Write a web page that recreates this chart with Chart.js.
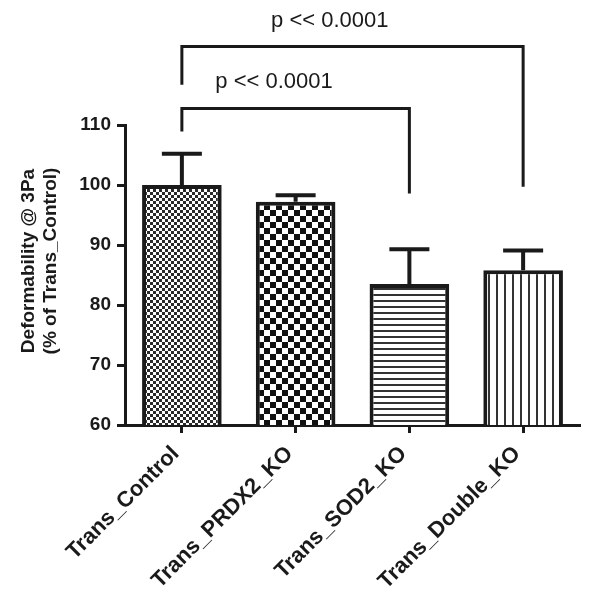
<!DOCTYPE html>
<html>
<head>
<meta charset="utf-8">
<script src="https://cdn.jsdelivr.net/npm/chart.js@4.4.1/dist/chart.umd.min.js"></script>
<style>
  html, body { margin: 0; padding: 0; background: #fff; }
  #wrap { width: 600px; height: 598px; position: relative; }
</style>
</head>
<body>
<div id="wrap"><canvas id="chart"></canvas></div>
<script>
// data
const categories = ['Trans_Control', 'Trans_PRDX2_KO', 'Trans_SOD2_KO', 'Trans_Double_KO'];
const meanValues = [100, 97.2, 83.5, 85.8];
const errorValues = [5.2, 1.1, 5.8, 3.3];
const yTicks = [60, 70, 80, 90, 100, 110];
const yTitle = ['Deformability @ 3Pa', '(% of Trans_Control)'];
const comparisons = [
  { from: 0, to: 2, label: 'p << 0.0001' },
  { from: 0, to: 3, label: 'p << 0.0001' }
];

const INK = '#1a1a1a';
const FAMILY = '"Liberation Sans", Arial, sans-serif';

// fill patterns like the prism style bars
function makePattern(kind) {
  const c = document.createElement('canvas');
  const g = c.getContext('2d');
  if (kind === 'fineCheck' || kind === 'coarseCheck') {
    const s = kind === 'fineCheck' ? 3 : 6;
    c.width = c.height = s * 2;
    g.fillStyle = '#fff';
    g.fillRect(0, 0, s * 2, s * 2);
    g.fillStyle = kind === 'fineCheck' ? '#2a2a2a' : '#111';
    g.fillRect(0, 0, s, s);
    g.fillRect(s, s, s, s);
  } else if (kind === 'hLines') {
    c.width = 6; c.height = 6;
    g.fillStyle = '#fff'; g.fillRect(0, 0, 6, 6);
    g.fillStyle = '#333'; g.fillRect(0, 0, 6, 2);
  } else {
    c.width = 8; c.height = 8;
    g.fillStyle = '#fff'; g.fillRect(0, 0, 8, 8);
    g.fillStyle = '#333'; g.fillRect(0, 0, 2, 8);
  }
  return g.createPattern(c, 'repeat');
}
const fills = [makePattern('fineCheck'), makePattern('coarseCheck'), makePattern('hLines'), makePattern('vLines')];

// error bars (upper only), significance brackets, y title
const extras = {
  id: 'extras',
  afterDatasetsDraw(chart) {
    const ctx = chart.ctx;
    const x = chart.scales.x, y = chart.scales.y;
    ctx.save();
    ctx.strokeStyle = INK;
    ctx.lineCap = 'butt';
    // error bars
    ctx.lineWidth = 4;
    meanValues.forEach((v, i) => {
      const px = x.getPixelForValue(i);
      const top = y.getPixelForValue(v + errorValues[i]);
      const base = y.getPixelForValue(v);
      ctx.beginPath();
      ctx.moveTo(px, base);
      ctx.lineTo(px, top);
      ctx.moveTo(px - 20, top);
      ctx.lineTo(px + 20, top);
      ctx.stroke();
    });
    // brackets: [bar level, left leg end, right leg end, text x (index), text y]
    const geo = [
      [112.75, 108.9, 98.6, 0.81, 116.2],
      [123.1, 116.7, 99.7, 1.30, 126.3]
    ];
    ctx.lineWidth = 3;
    ctx.fillStyle = INK;
    ctx.font = '22px ' + FAMILY;
    ctx.textAlign = 'center';
    ctx.textBaseline = 'alphabetic';
    comparisons.forEach((c, k) => {
      const g = geo[k];
      const x1 = x.getPixelForValue(c.from), x2 = x.getPixelForValue(c.to);
      const yl = y.getPixelForValue(g[0]);
      ctx.beginPath();
      ctx.moveTo(x1, y.getPixelForValue(g[1]));
      ctx.lineTo(x1, yl);
      ctx.lineTo(x2, yl);
      ctx.lineTo(x2, y.getPixelForValue(g[2]));
      ctx.stroke();
      ctx.fillText(c.label, x.getPixelForValue(g[3]), y.getPixelForValue(g[4]));
    });
    // y axis title, two lines
    ctx.font = 'bold 19px ' + FAMILY;
    ctx.textBaseline = 'middle';
    ctx.translate(0, y.getPixelForValue(85) - 14);
    ctx.rotate(-Math.PI / 2);
    yTitle.forEach((t, i) => ctx.fillText(t, 0, 29 + i * 22));
    ctx.restore();
  }
};

const tickFont = { family: FAMILY, size: 19, weight: 'bold' };

new Chart(document.getElementById('chart'), {
  type: 'bar',
  data: {
    labels: categories,
    datasets: [{
      data: meanValues,
      backgroundColor: fills,
      borderColor: INK,
      borderWidth: 4,
      borderSkipped: false,
      barPercentage: 0.7,
      categoryPercentage: 1.0
    }]
  },
  options: {
    responsive: true,
    maintainAspectRatio: false,
    animation: false,
    layout: { padding: { top: 125, right: 20, left: 0, bottom: 0 } },
    plugins: { legend: { display: false }, tooltip: { enabled: false } },
    scales: {
      x: {
        afterFit: s => { s.height = 173; },
        grid: { offset: false, drawOnChartArea: false, tickLength: 8, tickWidth: 3, tickColor: INK },
        border: { display: true, width: 3, color: INK },
        ticks: { color: INK, font: { family: FAMILY, size: 22, weight: 'bold' }, maxRotation: 45, minRotation: 45, padding: 8, labelOffset: -6 }
      },
      y: {
        min: 60,
        max: 110,
        afterFit: s => { s.width = 125; },
        afterBuildTicks: s => { s.ticks = yTicks.map(v => ({ value: v })); },
        grid: { drawOnChartArea: false, tickLength: 8, tickWidth: 3, tickColor: INK },
        border: { display: true, width: 3, color: INK },
        ticks: { color: INK, font: tickFont, padding: 6 }
      }
    }
  },
  plugins: [extras]
});
</script>
</body>
</html>
